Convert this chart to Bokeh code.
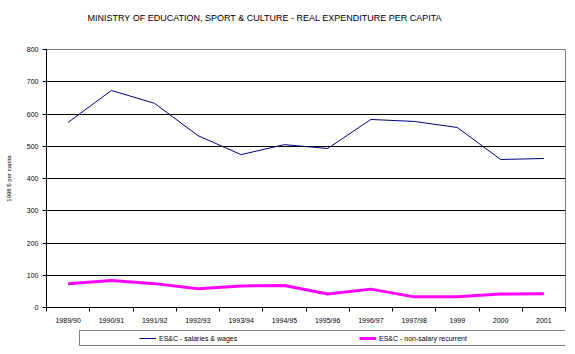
from bokeh.plotting import figure
from bokeh.models import FixedTicker, Legend, LegendItem, Range1d, Label
from bokeh.layouts import column
from bokeh.embed import file_html
from bokeh.resources import INLINE

title_text = "MINISTRY OF EDUCATION, SPORT & CULTURE - REAL EXPENDITURE PER CAPITA"
years = ["1989/90", "1990/91", "1991/92", "1992/93", "1993/94", "1994/95",
         "1995/96", "1996/97", "1997/98", "1999", "2000", "2001"]
salaries_wages = [574, 673, 633, 533, 474, 505, 493, 583, 577, 558, 459, 462]
non_salary = [74, 84, 74, 58, 67, 68, 42, 57, 33, 33, 42, 43]
series_names = ["ES&C - salaries & wages", "ES&C - non-salary recurrent"]
y_ticks = [0, 100, 200, 300, 400, 500, 600, 700, 800]

FONT = "Liberation Sans"
NAVY = "#000080"
MAGENTA = "#FF00FF"

x = list(range(len(years)))
n = len(years)


def strip(h):
    f = figure(width=575, height=h, output_backend="svg", toolbar_location=None,
               x_axis_location=None, y_axis_location=None,
               x_range=Range1d(0, 1), y_range=Range1d(0, 1),
               min_border=0, outline_line_color=None)
    f.xgrid.visible = False
    f.ygrid.visible = False
    return f


# title strip
ts = strip(40)
ts.add_layout(Label(x=41, y=23, x_units="screen", y_units="screen",
                    text=title_text, text_font=FONT, text_font_size="9px",
                    text_color="black", text_align="left",
                    text_baseline="middle"))

p = figure(width=575, height=290, output_backend="svg", toolbar_location=None,
           x_range=Range1d(-0.5, n - 0.5), y_range=Range1d(0, 800),
           min_border_left=46, min_border_right=10, min_border_top=9,
           min_border_bottom=23)

p.outline_line_color = "#808080"
p.outline_line_width = 1
p.background_fill_color = "white"
p.border_fill_color = "white"

# x axis: labels at category centres, ticks at category boundaries
xa = p.xaxis[0]
xa.ticker = FixedTicker(ticks=x, minor_ticks=[i - 0.5 for i in x] + [n - 0.5])
xa.major_label_overrides = {i: y for i, y in zip(x, years)}
xa.major_tick_out = 0
xa.major_tick_in = 0
xa.minor_tick_out = 4
xa.minor_tick_in = 0
xa.minor_tick_line_color = "black"
xa.axis_line_color = "black"
xa.major_label_text_font = FONT
xa.major_label_text_font_size = "7px"
xa.major_label_text_color = "black"
xa.major_label_standoff = 5

ya = p.yaxis[0]
ya.ticker = FixedTicker(ticks=y_ticks)
ya.major_tick_out = 4
ya.major_tick_in = 0
ya.minor_tick_out = 0
ya.minor_tick_in = 0
ya.axis_line_color = "black"
ya.major_tick_line_color = "black"
ya.major_label_text_font = FONT
ya.major_label_text_font_size = "7px"
ya.major_label_text_color = "black"
ya.major_label_standoff = 4
ya.axis_label = "1998 $ per capita"
ya.axis_label_text_font = FONT
ya.axis_label_text_font_size = "6px"
ya.axis_label_text_font_style = "normal"
ya.axis_label_text_color = "black"
ya.axis_label_standoff = 12

p.xgrid.visible = False
p.ygrid.ticker = FixedTicker(ticks=y_ticks[1:-1])
p.ygrid.grid_line_color = "black"
p.ygrid.grid_line_width = 1

p.line(x, salaries_wages, line_color=NAVY, line_width=1)
p.line(x, non_salary, line_color=MAGENTA, line_width=3)

# legend strip below the chart
lg = strip(24)
lr1 = lg.line(x, salaries_wages, line_color=NAVY, line_width=1, visible=False)
lr2 = lg.line(x, non_salary, line_color=MAGENTA, line_width=3, visible=False)

legend = Legend(items=[LegendItem(label=series_names[0], renderers=[lr1]),
                       LegendItem(label=series_names[1], renderers=[lr2])],
                orientation="horizontal", location=(33, 8),
                title=" ", title_location="left", title_text_font_size="1px",
                title_standoff=56,
                label_text_font=FONT, label_text_font_size="7px",
                label_text_color="black",
                glyph_width=17, glyph_height=10, label_height=10,
                label_standoff=3, label_width=200, spacing=0, padding=2,
                margin=0, border_line_color="black", border_line_width=1,
                background_fill_color="white", background_fill_alpha=1,
                inactive_fill_alpha=0)
lg.add_layout(legend)

layout = column(ts, p, lg, spacing=0)
open("out.html", "w").write(file_html(layout, INLINE))
